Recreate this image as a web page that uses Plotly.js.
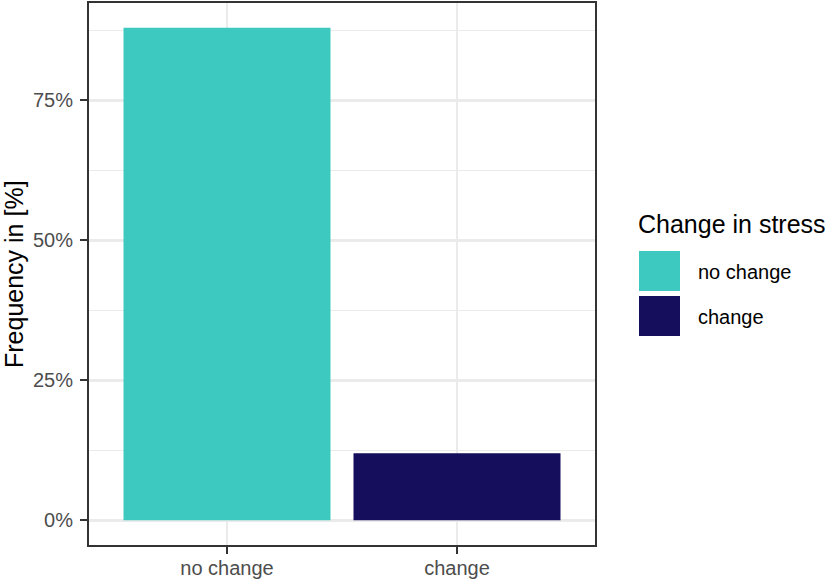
<!DOCTYPE html>
<html>
<head>
<meta charset="utf-8">
<script src="https://cdn.plot.ly/plotly-3.0.1.min.js"></script>
<style>
  html, body { margin: 0; padding: 0; background: #ffffff; }
  #chart { width: 832px; height: 581px; }
</style>
</head>
<body>
<div id="chart"></div>
<script>
// ---- data ----
const categories = ["no change", "change"];
const frequencies = [88, 12];            // percent
const barColors = ["#3EC9C0", "#140E5C"];
const yTickVals = [0, 25, 50, 75];
const yTickText = ["0%", "25%", "50%", "75%"];
const legendTitle = "Change in stress";
const yAxisTitle = "Frequency in [%]";

// ---- layout helpers ----
const W = 832, H = 581;
const M = { l: 89, r: 237, t: 3, b: 36 };
const PW = W - M.l - M.r, PH = H - M.t - M.b;
const px = x => (x - M.l) / PW;
const py = y => (H - M.b - y) / PH;

const FONT = "Liberation Sans, Arial, Helvetica, sans-serif";

const trace = {
  type: "bar",
  x: categories,
  y: frequencies,
  width: 0.9,
  marker: { color: barColors, line: { width: 0 } },
  showlegend: false,
  hoverinfo: "x+y"
};

// manual ggplot-style legend
const shapes = [];
const annotations = [];
annotations.push({
  xref: "paper", yref: "paper",
  x: px(636), y: py(224),
  xanchor: "left", yanchor: "middle",
  text: legendTitle, showarrow: false,
  font: { family: FONT, size: 25, color: "#000000" }
});
categories.forEach((c, i) => {
  const top = 251 + i * 45;
  shapes.push({
    type: "rect", xref: "paper", yref: "paper",
    x0: px(639), x1: px(680), y0: py(top + 40), y1: py(top),
    fillcolor: barColors[i], line: { width: 0 }
  });
  annotations.push({
    xref: "paper", yref: "paper",
    x: px(696), y: py(top + 21),
    xanchor: "left", yanchor: "middle",
    text: c, showarrow: false,
    font: { family: FONT, size: 20, color: "#000000" }
  });
});
// y-axis title
annotations.push({
  xref: "paper", yref: "paper",
  x: px(14), y: py(274),
  xanchor: "center", yanchor: "middle",
  text: yAxisTitle, textangle: -90, showarrow: false,
  font: { family: FONT, size: 25, color: "#000000" }
});

const layout = {
  width: W, height: H,
  margin: M,
  paper_bgcolor: "#ffffff",
  plot_bgcolor: "#ffffff",
  font: { family: FONT },
  bargap: 0.1,
  xaxis: {
    type: "category",
    range: [-0.6, 1.6],
    showgrid: true, gridcolor: "#EBEBEB", gridwidth: 2.4,
    showline: true, mirror: true, linecolor: "#333333", linewidth: 2,
    ticks: "outside", ticklen: 7, tickwidth: 2, tickcolor: "#333333",
    ticklabelstandoff: -3,
    tickfont: { family: FONT, size: 20, color: "#4D4D4D" },
    zeroline: false, fixedrange: true
  },
  yaxis: {
    range: [-4.4, 92.4],
    tickvals: yTickVals, ticktext: yTickText,
    showgrid: true, gridcolor: "#EBEBEB", gridwidth: 2.4,
    minor: { tick0: 12.5, dtick: 25, showgrid: true, gridcolor: "#EBEBEB", gridwidth: 1.2, ticks: "" },
    showline: true, mirror: true, linecolor: "#333333", linewidth: 2,
    ticks: "outside", ticklen: 7, tickwidth: 2, tickcolor: "#333333",
    ticklabelstandoff: 3,
    tickfont: { family: FONT, size: 20, color: "#4D4D4D" },
    zeroline: false, fixedrange: true
  },
  shapes: shapes,
  annotations: annotations,
  showlegend: false
};

Plotly.newPlot("chart", [trace], layout, { displayModeBar: false, staticPlot: true });
</script>
</body>
</html>
